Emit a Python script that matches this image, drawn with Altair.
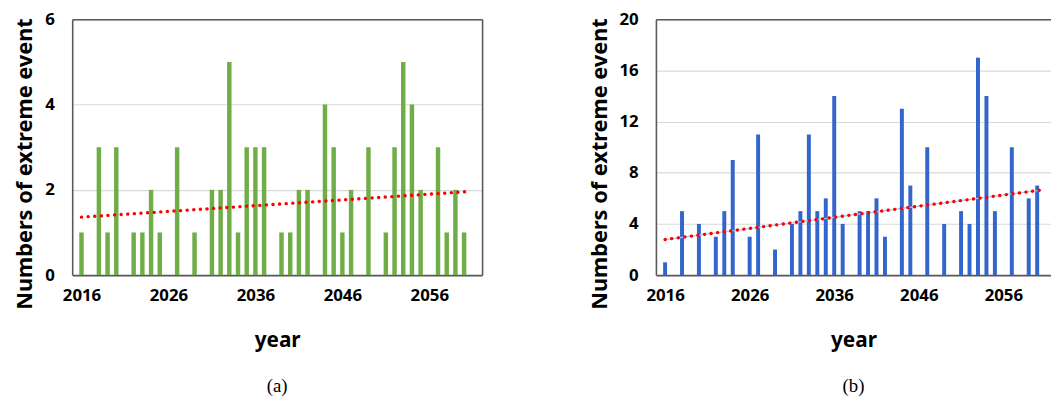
import altair as alt
import pandas as pd

# ---- data ----
years = list(range(2016, 2062))
events_a = [1, 0, 3, 1, 3, 0, 1, 1, 2, 1, 0, 3, 0, 1, 0, 2, 2, 5, 1, 3, 3, 3, 0, 1, 1,
            2, 2, 0, 4, 3, 1, 2, 0, 3, 0, 1, 3, 5, 4, 2, 0, 3, 1, 2, 1, 0]
events_b = [1, 0, 5, 0, 4, 0, 3, 5, 9, 0, 3, 11, 0, 2, 0, 4, 5, 11, 5, 6, 14, 4, 0, 5, 5,
            6, 3, 0, 13, 7, 0, 10, 0, 4, 0, 5, 4, 17, 14, 5, 0, 10, 0, 6, 7, 0]
tick_years = [2016, 2026, 2036, 2046, 2056]
trend_years = [2016, 2060.5]
trend_a = [1.36, 1.96]
trend_b = [2.78, 6.65]
yticks_a = [0, 2, 4, 6]
yticks_b = [0, 4, 8, 12, 16, 20]

FONT = "Noto Sans"
AXIS_COLOR = "#595959"


def panel(values, color, bar_size, yticks, width, xmax, trend_vals, caption,
          right_border, under_line):
    df = pd.DataFrame({"year": years, "count": values})
    tdf = pd.DataFrame({"year": trend_years, "trend": trend_vals})
    xscale = alt.Scale(domain=[2015.5, xmax], nice=False, zero=False)
    yscale = alt.Scale(domain=[yticks[0], yticks[-1]], nice=False)

    bars = alt.Chart(df).mark_bar(size=bar_size, color=color).encode(
        x=alt.X("year:Q", scale=xscale,
                axis=alt.Axis(values=tick_years, format="d", title="year",
                              grid=False, ticks=False, domain=True,
                              domainColor=AXIS_COLOR, domainWidth=1.6,
                              labelFont=FONT, labelFontSize=17, labelFontWeight="bold",
                              labelColor="black", labelPadding=13,
                              titleFont=FONT, titleFontSize=21, titleFontWeight="bold",
                              titleColor="black", titlePadding=26)),
        y=alt.Y("count:Q", scale=yscale,
                axis=alt.Axis(values=yticks, title="Numbers of extreme event",
                              grid=True, gridColor="#D9D9D9", gridWidth=1.2,
                              ticks=False, domain=True,
                              domainColor=AXIS_COLOR, domainWidth=1.6,
                              labelFont=FONT, labelFontSize=17, labelFontWeight="bold",
                              labelColor="black", labelPadding=18,
                              titleFont=FONT, titleFontSize=22, titleFontWeight="bold",
                              titleColor="black", titlePadding=8, titleY=146)),
    )
    layers = [bars]
    if under_line:
        layers.append(
            alt.Chart(tdf).mark_line(color="#A9CBEA", strokeWidth=1.2).encode(
                x=alt.X("year:Q", scale=xscale, axis=None),
                y=alt.Y("trend:Q", scale=yscale, axis=None),
            )
        )
    if right_border:
        yaxis_tr = alt.Axis(orient="right", labels=False, ticks=False, title=None,
                            grid=False, domain=True, domainColor=AXIS_COLOR,
                            domainWidth=1.6)
    else:
        yaxis_tr = None
    trend = alt.Chart(tdf).mark_line(color="#FF0000", strokeWidth=3.4,
                                     strokeDash=[0.1, 6.6], strokeCap="round").encode(
        x=alt.X("year:Q", scale=xscale,
                axis=alt.Axis(orient="top", labels=False, ticks=False, title=None,
                              grid=False, domain=True, domainColor=AXIS_COLOR,
                              domainWidth=1.6)),
        y=alt.Y("trend:Q", scale=yscale, axis=yaxis_tr),
    )
    layers.append(trend)
    return alt.layer(*layers).resolve_axis(x="independent", y="independent").properties(
        width=width, height=259,
        title=alt.TitleParams(caption, orient="bottom", anchor="middle", frame="group",
                              font="Liberation Serif", fontSize=19, fontWeight="normal",
                              color="black", offset=27),
    )


left = panel(events_a, "#70AD47", 4.5, yticks_a, 415, 2061.5, trend_a, "(a)", True, False)
right = panel(events_b, "#3366CC", 4.0, yticks_b, 400, 2061.05, trend_b, "(b)", False, True)

chart = alt.hconcat(left, right, spacing=107).configure(
    padding={"left": 6, "top": 0, "right": 0, "bottom": 0},
    background="white",
).configure_view(strokeWidth=0)

chart.save("out.html", embed_options={"renderer": "svg", "actions": False})
